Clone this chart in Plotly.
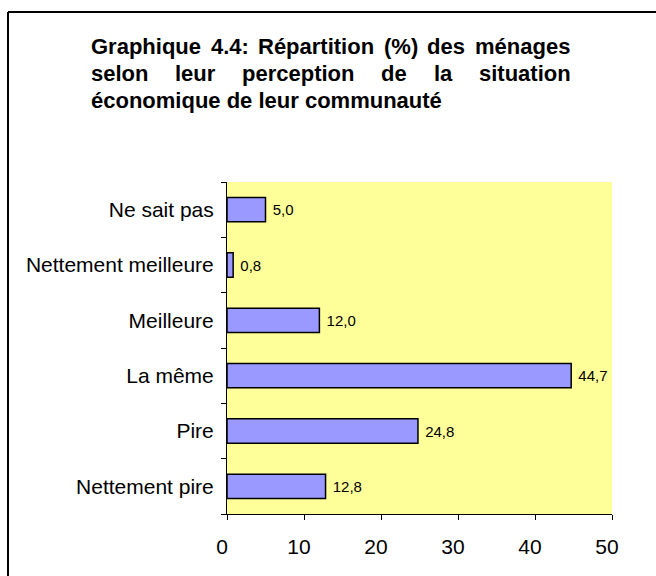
import plotly.graph_objects as go

categories = ["Nettement pire", "Pire", "La même", "Meilleure", "Nettement meilleure", "Ne sait pas"]
values = [12.8, 24.8, 44.7, 12.0, 0.8, 5.0]
x_ticks = [0, 10, 20, 30, 40, 50]

W, H = 656, 576
L, R, T, B = 227, 44, 182, 62
PW, PH = W - L - R, H - T - B

def px2x(px):
    return (px - L) / PW

def px2y(py):
    return (H - B - py) / PH

FONT = "Liberation Sans, Arial, sans-serif"

fig = go.Figure()
fig.add_trace(go.Bar(
    y=categories, x=values, orientation="h", width=0.44,
    marker=dict(color="#9999FF", line=dict(color="black", width=1.5)),
    texttemplate="\u00a0%{x:.1f}", textposition="outside",
    textfont=dict(family=FONT, size=15, color="black"),
    cliponaxis=False, hoverinfo="skip",
))

# title words (justified paragraph), positioned in pixels
title_lines = [
    (46.5, [("Graphique", 89), ("4.4:", 208.5), ("Répartition", 256), ("(%)", 381.5), ("des", 425), ("ménages", 472.5)]),
    (73.5, [("selon", 89), ("leur", 173), ("perception", 240), ("de", 379), ("la", 431.5), ("situation", 476.5)]),
    (100.5, [("économique de leur communauté", 89)]),
]
annotations = []
for ypx, words in title_lines:
    for w, xpx in words:
        annotations.append(dict(
            text=w, x=px2x(xpx), y=px2y(ypx), xref="paper", yref="paper",
            xanchor="left", yanchor="middle", showarrow=False,
            font=dict(family=FONT, size=22, color="black", weight="bold"),
        ))

shapes = [
    dict(type="line", xref="paper", yref="paper", x0=px2x(8), x1=px2x(8), y0=px2y(12), y1=px2y(620),
         line=dict(color="black", width=2)),
    dict(type="line", xref="paper", yref="paper", x0=px2x(8), x1=px2x(720), y0=px2y(12), y1=px2y(12),
         line=dict(color="black", width=2)),
]

fig.update_layout(
    width=W, height=H,
    margin=dict(l=L, r=R, t=T, b=B, pad=0),
    paper_bgcolor="white", plot_bgcolor="#FFFF99",
    separators=", ",
    showlegend=False,
    font=dict(family=FONT, color="black"),
    annotations=annotations, shapes=shapes,
)
fig.update_xaxes(
    range=[0, 50], tickvals=x_ticks, showgrid=False, zeroline=False,
    showline=True, linecolor="black", linewidth=1,
    ticks="outside", ticklen=5, tickcolor="black",
    tickfont=dict(family=FONT, size=21, color="black"),
    ticklabelstandoff=9, ticklabelshift=-5,
)
fig.update_yaxes(
    categoryorder="array", categoryarray=categories,
    showgrid=False, zeroline=False,
    showline=True, linecolor="black", linewidth=1,
    ticks="outside", ticklen=5, tickcolor="black", tickson="boundaries",
    tickfont=dict(family=FONT, size=21, color="black"),
    ticklabelstandoff=8,
)

fig.write_html("out.html", config={"displayModeBar": False},
               post_script="document.body.style.margin='0px';")
